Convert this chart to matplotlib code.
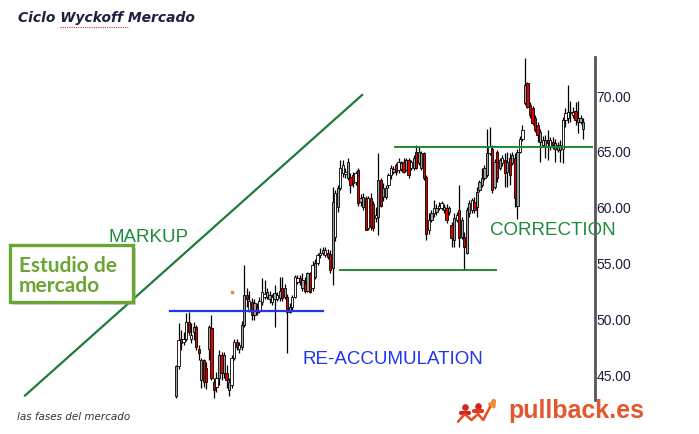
import matplotlib
matplotlib.use('Agg')
import matplotlib.pyplot as plt
from matplotlib.patches import Rectangle
from matplotlib.lines import Line2D

# candle fill: g = grey, w = white, r = red
kinds = ("gwrwwrwgrrgrrgrrwgrgrgwwrwg"
         "grwrgrwwwggwgwgrgrgwwwrgrgrwgwwgwrr"
         "gwgwwwgrrwrggrwrrwgrggwwgrwgrgrwgr"
         "ggrrwgwgwwgrgrgwrgrggwrgggggwrgrgwrgrgrgwwgrrrrrgwgrwrgggwwwgwrggg")

opens = [43.2, 45.8, 48.3, 48.0, 48.3, 49.8, 48.3, 48.9, 49.3, 47.4, 44.6, 46.4, 45.7, 47.4,
         49.2, 44.4, 44.0, 44.8, 46.8, 45.2, 45.2, 43.7, 44.1, 46.6, 48.0, 47.4, 47.5,
         49.5, 52.2, 50.9, 51.6, 50.4, 51.1, 50.8, 51.6, 52.0, 52.0, 51.8, 51.6, 51.8, 51.8,
         51.9, 52.8, 52.0, 52.0, 50.7, 51.1, 52.0, 53.4, 53.7, 52.8, 53.3, 52.6, 54.2, 52.8,
         53.8, 55.1, 55.8, 56.0, 55.8, 56.0, 55.9,
         54.6, 57.4, 60.1, 61.8, 63.1, 63.0, 62.7, 62.8, 62.9, 62.3, 63.4, 60.5, 60.1, 60.9,
         58.2, 60.9, 60.3, 59.1, 59.2, 62.5, 61.0, 61.0, 62.0, 62.9, 63.2, 63.8, 63.4, 63.5,
         64.1, 63.4, 64.3, 63.6, 63.6, 65.0,
         64.0, 63.6, 64.9, 62.8, 58.0, 58.9, 59.5, 59.6, 60.0, 60.0, 59.8, 60.0, 59.6, 58.5,
         57.1, 58.9, 59.8, 57.4, 57.4, 56.0, 59.5, 59.8, 60.5, 60.1, 61.6, 62.0, 62.7, 62.9,
         64.9, 65.3, 61.9, 65.0, 63.6, 64.0, 64.3, 63.2, 64.5, 64.0, 64.5, 60.2, 65.0, 66.2,
         69.4, 71.2, 69.2, 68.9, 68.0, 67.4, 65.9, 65.6, 65.4, 66.1, 65.4, 65.9, 65.3, 65.2,
         65.2, 65.3, 67.9, 68.0, 68.5, 68.3, 68.7, 67.7, 67.7, 67.1]

highs = [45.9, 49.7, 49.1, 48.9, 50.6, 50.7, 49.7, 49.8, 49.5, 47.7, 46.6, 46.5, 46.2, 49.5,
         50.4, 44.8, 45.3, 47.3, 47.1, 47.1, 45.9, 44.8, 46.8, 48.3, 48.3, 48.0, 49.9,
         54.9, 52.8, 52.6, 51.9, 51.8, 51.5, 52.0, 53.7, 53.5, 52.8, 52.6, 52.3, 53.1, 52.5,
         53.8, 53.8, 53.2, 52.3, 51.5, 52.2, 54.0, 54.0, 54.0, 54.2, 53.8, 54.3, 54.3, 55.2,
         55.4, 56.0, 56.4, 56.5, 56.5, 56.3, 56.2,
         61.9, 61.6, 62.0, 64.3, 64.3, 63.6, 64.5, 63.1, 63.2, 63.3, 63.6, 61.2, 61.3, 61.1,
         61.1, 61.3, 60.6, 60.1, 64.9, 62.7, 62.2, 62.0, 63.1, 63.8, 63.7, 64.0, 64.5, 64.2,
         64.5, 64.5, 64.5, 64.3, 64.7, 65.6,
         65.4, 65.1, 65.0, 62.9, 59.5, 59.8, 60.7, 60.3, 60.5, 60.6, 60.3, 60.3, 60.2, 58.7,
         59.5, 59.6, 62.0, 59.2, 57.8, 60.1, 60.7, 60.9, 61.0, 61.9, 62.5, 63.6, 63.8, 67.1,
         67.2, 65.6, 64.4, 65.2, 64.5, 64.7, 64.9, 65.0, 64.9, 65.0, 64.9, 65.3, 66.4, 67.4,
         73.4, 71.3, 69.5, 69.1, 68.3, 67.7, 67.1, 66.4, 66.5, 67.0, 66.3, 66.3, 66.2, 65.9,
         66.1, 68.1, 68.9, 71.0, 69.6, 69.0, 69.5, 69.6, 68.3, 68.0]

lows = [43.0, 45.6, 47.3, 47.7, 48.1, 48.6, 47.9, 48.2, 47.3, 46.4, 43.9, 44.0, 43.8, 46.4,
        44.6, 43.0, 43.5, 44.1, 44.6, 44.8, 43.9, 43.2, 43.9, 46.4, 47.3, 47.0, 47.3,
        49.3, 51.1, 50.7, 50.0, 50.0, 50.4, 50.6, 51.3, 51.8, 51.8, 51.5, 51.3, 49.3, 51.7,
        51.7, 51.7, 51.8, 47.0, 50.6, 50.9, 51.9, 53.2, 53.1, 52.6, 52.4, 52.5, 52.4, 52.6,
        53.6, 54.9, 55.5, 55.8, 55.6, 55.4, 54.2,
        53.1, 57.0, 59.6, 61.6, 62.8, 62.7, 62.5, 61.3, 61.9, 62.0, 60.2, 60.2, 59.8, 58.0,
        58.0, 58.0, 57.9, 58.7, 57.6, 60.1, 60.6, 60.8, 61.8, 62.6, 63.0, 62.9, 63.1, 63.3,
        63.1, 63.3, 62.7, 63.4, 63.4, 63.5,
        63.8, 63.4, 62.5, 57.1, 57.7, 58.7, 59.2, 59.4, 59.8, 59.8, 59.5, 58.6, 59.4, 56.5,
        56.5, 58.7, 56.5, 57.2, 54.4, 55.9, 59.2, 59.5, 59.5, 59.2, 61.4, 61.9, 62.5, 62.8,
        64.7, 61.3, 61.7, 62.3, 63.4, 63.7, 61.9, 61.9, 62.0, 63.8, 60.1, 59.0, 64.9, 66.0,
        69.2, 68.9, 68.0, 67.4, 66.8, 65.9, 64.1, 65.4, 64.5, 64.3, 65.2, 65.3, 64.1, 65.0,
        64.1, 64.0, 67.2, 67.6, 67.7, 68.0, 67.4, 66.7, 67.5, 66.2]

closes = [45.8, 48.2, 47.9, 48.3, 49.8, 48.9, 48.6, 49.3, 47.5, 47.0, 46.4, 44.4, 44.4, 49.3,
          44.8, 43.7, 44.8, 46.8, 45.2, 46.8, 44.6, 44.4, 46.6, 48.0, 47.5, 47.7, 49.5,
          52.2, 51.8, 51.7, 50.4, 51.5, 50.7, 51.7, 52.5, 52.3, 52.5, 52.2, 52.0, 52.4, 52.2,
          52.6, 51.9, 52.8, 50.7, 51.1, 52.0, 53.8, 53.7, 53.4, 53.5, 52.6, 54.2, 52.5, 54.9,
          55.1, 55.8, 56.0, 56.2, 56.2, 55.6, 54.4,
          60.5, 61.3, 61.8, 63.6, 63.8, 63.2, 64.1, 62.0, 62.2, 63.1, 60.4, 60.9, 61.0, 58.0,
          60.9, 58.3, 58.2, 59.4, 62.5, 60.2, 61.8, 61.8, 62.9, 63.6, 63.5, 63.2, 64.1, 64.0,
          63.2, 64.3, 62.9, 64.1, 64.5, 63.6,
          65.0, 64.9, 62.7, 57.7, 58.9, 59.5, 60.0, 60.0, 60.2, 60.4, 60.1, 58.9, 60.0, 57.3,
          59.1, 59.4, 57.3, 58.9, 56.5, 59.8, 60.4, 60.7, 59.8, 61.4, 62.3, 62.7, 63.6, 64.9,
          65.4, 61.6, 64.1, 62.7, 64.3, 64.5, 63.1, 64.1, 62.9, 64.7, 60.9, 65.0, 66.2, 67.0,
          71.0, 69.0, 68.3, 67.6, 67.0, 66.5, 66.8, 66.1, 66.1, 65.8, 66.1, 65.6, 65.8, 65.6,
          65.6, 67.9, 68.5, 68.6, 68.6, 68.6, 67.9, 68.0, 68.0, 67.7]

price_ticks = [45, 50, 55, 60, 65, 70]

# drawn levels (x in candle index, y in price)
markup_line = ([-59.7, 73.6], [43.2, 70.1])
reaccum_level = ([-2.4, 58.2], [50.75, 50.75])
resist_level = ([86.6, 164.6], [65.45, 65.45])
support_level = ([64.9, 126.6], [54.45, 54.45])

fill = {'g': '#a0a0a0', 'w': '#ffffff', 'r': '#e00000'}

W, H = 699, 434
fig = plt.figure(figsize=(W / 100, H / 100), dpi=100)
fig.patch.set_facecolor('white')

ax = fig.add_axes([0, 1 - 400 / H, 595 / W, 343 / H])
n = min(len(kinds), len(opens), len(highs), len(lows), len(closes))
xs = list(range(n))
ax.vlines(xs, lows[:n], highs[:n], color='black', linewidth=0.9, zorder=2)
bottoms = [min(opens[i], closes[i]) for i in xs]
heights = [max(abs(closes[i] - opens[i]), 0.08) for i in xs]
ax.bar(xs, heights, bottom=bottoms, width=0.9,
       color=[fill[k] for k in kinds[:n]], edgecolor='black', linewidth=0.6, zorder=3)

ax.plot(*markup_line, color='#1e7b3c', linewidth=1.6, zorder=1)
ax.plot(*reaccum_level, color='#2036f0', linewidth=1.6, zorder=4)
ax.plot(*resist_level, color='#1f8a32', linewidth=1.4, zorder=4)
ax.plot(*support_level, color='#1f8a32', linewidth=1.4, zorder=4)

ax.set_xlim(-69.6, 165.7)
ax.set_ylim(42.8, 73.5)
for s in ['left', 'top', 'bottom']:
    ax.spines[s].set_visible(False)
ax.spines['right'].set_color('#555555')
ax.spines['right'].set_linewidth(2)
ax.set_xticks([])
ax.yaxis.tick_right()
ax.set_yticks(price_ticks)
ax.set_yticklabels(['%.2f' % t for t in price_ticks])
ax.tick_params(axis='y', length=0, pad=1, labelsize=10, labelcolor='#1c1c3c')
for lab in ax.get_yticklabels():
    lab.set_family('Liberation Sans')


def fx(px):
    return px / W


def fy(py):
    return 1 - py / H


# title and captions
fig.text(fx(18), fy(18), 'Ciclo Wyckoff Mercado', fontsize=10, fontweight='bold',
         fontstyle='italic', color='#1f2040', va='center', family='DejaVu Sans')
fig.add_artist(Line2D([fx(60), fx(128)], [fy(27), fy(27)], color='#e03030',
                      linewidth=0.8, linestyle=(0, (1, 1))))
fig.text(fx(17), fy(417), 'las fases del mercado', fontsize=7.5, fontstyle='italic',
         color='#333333', va='center', family='DejaVu Sans')

fig.text(fx(108), fy(238), 'MARKUP', fontsize=13.5, color='#1e8a3c', va='center',
         family='Liberation Sans')
fig.text(fx(490), fy(230), 'CORRECTION', fontsize=13.5, color='#1e8a3c', va='center',
         family='Liberation Sans')
fig.text(fx(303), fy(360), 'RE-ACCUMULATION', fontsize=13.5, color='#2036f0', va='center',
         family='Liberation Sans')

# "Estudio de mercado" box
fig.add_artist(Rectangle((fx(13), fy(305)), 123 / W, 57 / H, transform=fig.transFigure,
                         facecolor='#999999', alpha=0.45, edgecolor='none'))
fig.add_artist(Rectangle((fx(10), fy(302)), 123 / W, 57 / H, transform=fig.transFigure,
                         facecolor='white', edgecolor='#6aa535', linewidth=2.4))
fig.text(fx(19), fy(266), 'Estudio de', fontsize=15, fontweight='bold', color='#6aa535',
         va='center', family='Lato')
fig.text(fx(19), fy(286), 'mercado', fontsize=15, fontweight='bold', color='#6aa535',
         va='center', family='Lato')

fig.add_artist(Line2D([fx(232)], [fy(292)], marker='s', markersize=1.5, color='#f08050',
                      linestyle='none'))

# pullback.es logo
fig.text(fx(508), fy(411), 'pullback.es', fontsize=18, fontweight='bold', color='#e4572e',
         va='center', family='Liberation Sans')
logo = fig.add_axes([fx(456), fy(426), 44 / W, 30 / H])
logo.set_xlim(0, 1)
logo.set_ylim(0, 1)
logo.axis('off')
logo.plot([0.12, 0.3], [0.45, 0.45], color='#d62020', linewidth=3, solid_capstyle='round')
logo.plot([0.42, 0.6], [0.5, 0.5], color='#e03a20', linewidth=3, solid_capstyle='round')
logo.scatter([0.2, 0.5], [0.62, 0.68], s=14, color='#d62020')
logo.plot([0.05, 0.2, 0.35, 0.5, 0.62, 0.85], [0.15, 0.4, 0.2, 0.4, 0.2, 0.85],
          color='#e84a1e', linewidth=1.8)
logo.annotate('', xy=(0.95, 1.0), xytext=(0.8, 0.65),
              arrowprops=dict(arrowstyle='-|>', color='#f28c38', lw=2))

fig.savefig('out.png', dpi=100)
